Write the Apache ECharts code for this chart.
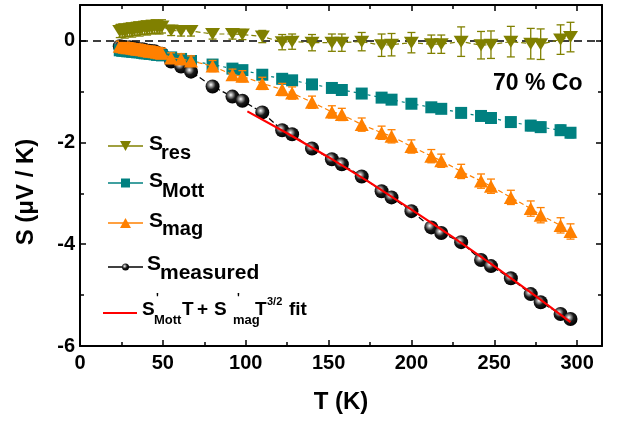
<!DOCTYPE html>
<html>
<head>
<meta charset="utf-8">
<script src="https://cdn.jsdelivr.net/npm/echarts@6/dist/echarts.min.js"></script>
<style>
  html, body { margin: 0; padding: 0; background: #fff; }
  #chart { width: 626px; height: 422px; }
</style>
</head>
<body>
<div id="chart"></div>
<script>
// Temperature points (K)
const T = [24, 25.5, 27, 28.5, 30, 31.5, 33, 34.5, 36, 37.5, 39, 40.5, 42, 43.5, 45, 46.5, 48, 49.5,
  55, 61, 67, 80, 92, 98, 110, 122, 128, 140, 152, 158, 170, 182, 188, 200, 212, 218, 230, 242, 248,
  260, 272, 278, 290, 296];

// Residual term
const S_res = [0.19, 0.20, 0.18, 0.21, 0.22, 0.20, 0.23, 0.24, 0.22, 0.25, 0.26, 0.24, 0.27, 0.26, 0.28, 0.27, 0.26, 0.28,
  0.20, 0.19, 0.19, 0.13, 0.13, 0.12, 0.08, -0.03, -0.02, -0.04, -0.04, -0.04, -0.02, -0.09, -0.08, -0.04,
  -0.07, -0.07, -0.02, -0.09, -0.08, -0.02, -0.06, -0.07, 0.02, 0.07];
const S_res_err = [0.13, 0.13, 0.13, 0.13, 0.13, 0.13, 0.13, 0.13, 0.13, 0.13, 0.13, 0.13, 0.13, 0.13, 0.13, 0.13, 0.13, 0.13,
  0.10, 0.10, 0.10, 0.10, 0.10, 0.10, 0.12, 0.15, 0.15, 0.16, 0.17, 0.17, 0.18, 0.22, 0.22, 0.20,
  0.18, 0.18, 0.29, 0.27, 0.27, 0.30, 0.30, 0.30, 0.29, 0.29];

// Mott (diffusion) term
const S_Mott = [-0.19, -0.20, -0.20, -0.21, -0.21, -0.22, -0.22, -0.23, -0.23, -0.24, -0.25, -0.25, -0.26, -0.26, -0.27, -0.28, -0.28, -0.29,
  -0.33, -0.36, -0.40, -0.47, -0.55, -0.58, -0.67, -0.75, -0.78, -0.86, -0.93, -0.97, -1.04, -1.12, -1.16, -1.24,
  -1.31, -1.34, -1.42, -1.48, -1.52, -1.60, -1.67, -1.70, -1.76, -1.81];
const S_Mott_err = [0.05, 0.05, 0.05, 0.05, 0.05, 0.05, 0.05, 0.05, 0.05, 0.05, 0.05, 0.05, 0.05, 0.05, 0.05, 0.05, 0.05, 0.05,
  0.06, 0.06, 0.06, 0.06, 0.06, 0.06, 0.07, 0.07, 0.07, 0.07, 0.07, 0.07, 0.08, 0.08, 0.08, 0.08,
  0.08, 0.08, 0.09, 0.09, 0.09, 0.09, 0.10, 0.10, 0.10, 0.10];

// Magnon drag term
const S_mag = [-0.11, -0.12, -0.13, -0.14, -0.14, -0.15, -0.16, -0.17, -0.17, -0.18, -0.19, -0.20, -0.21, -0.21, -0.22, -0.23, -0.24, -0.25,
  -0.34, -0.36, -0.40, -0.50, -0.67, -0.70, -0.84, -0.96, -1.03, -1.21, -1.40, -1.45, -1.65, -1.81, -1.88, -2.08,
  -2.27, -2.36, -2.57, -2.76, -2.86, -3.08, -3.30, -3.43, -3.63, -3.75];
const S_mag_err = [0.10, 0.10, 0.10, 0.10, 0.10, 0.10, 0.10, 0.10, 0.10, 0.10, 0.10, 0.10, 0.10, 0.10, 0.10, 0.10, 0.10, 0.10,
  0.10, 0.10, 0.10, 0.11, 0.11, 0.11, 0.12, 0.12, 0.12, 0.12, 0.12, 0.12, 0.13, 0.13, 0.13, 0.13,
  0.13, 0.13, 0.14, 0.14, 0.14, 0.14, 0.15, 0.15, 0.15, 0.15];

// Measured thermopower
const S_measured = [-0.11, -0.12, -0.15, -0.14, -0.13, -0.17, -0.15, -0.16, -0.18, -0.17, -0.18, -0.21, -0.20, -0.21, -0.21, -0.24, -0.26, -0.26,
  -0.41, -0.51, -0.61, -0.90, -1.10, -1.18, -1.41, -1.76, -1.84, -2.12, -2.33, -2.43, -2.67, -2.96, -3.08, -3.35,
  -3.67, -3.78, -3.96, -4.31, -4.43, -4.67, -4.98, -5.14, -5.37, -5.47];

// S'_Mott T + S'_mag T^(3/2) fit curve
const fitT = [101, 125, 150, 175, 200, 225, 250, 275, 296];
const fitS = [-1.39, -1.82, -2.29, -2.79, -3.32, -3.86, -4.43, -5.02, -5.53];

// Axis ticks
const xTicks = [0, 50, 100, 150, 200, 250, 300];
const yTicks = [-6, -4, -2, 0];

const FONT = '"Liberation Sans", Arial, sans-serif';
const C_RES = '#808000', C_MOTT = '#008080', C_MAG = '#FF8000', C_FIT = '#FF0000';

const pairs = (xs, ys) => xs.map((x, i) => [x, ys[i]]);
const errData = (ys, es) => T.map((x, i) => [x, ys[i] - es[i], ys[i] + es[i]]);

function errorBars(color) {
  return function (params, api) {
    const x = api.value(0);
    const lo = api.coord([x, api.value(1)]);
    const hi = api.coord([x, api.value(2)]);
    const w = 4;
    const st = { stroke: color, lineWidth: 1.3 };
    return {
      type: 'group',
      children: [
        { type: 'line', shape: { x1: lo[0], y1: lo[1], x2: hi[0], y2: hi[1] }, style: st },
        { type: 'line', shape: { x1: lo[0] - w, y1: lo[1], x2: lo[0] + w, y2: lo[1] }, style: st },
        { type: 'line', shape: { x1: hi[0] - w, y1: hi[1], x2: hi[0] + w, y2: hi[1] }, style: st }
      ]
    };
  };
}

const sphere = {
  type: 'radial', x: 0.38, y: 0.38, r: 0.62,
  colorStops: [
    { offset: 0, color: '#ffffff' },
    { offset: 0.22, color: '#a0a0a0' },
    { offset: 0.55, color: '#1a1a1a' },
    { offset: 1, color: '#000000' }
  ]
};

// Legend drawing helpers
function txt(x, y, text, size, extra) {
  return Object.assign({
    type: 'text', x: x, y: y, z: 100,
    style: {
      text: text, font: 'bold ' + size + 'px ' + FONT, fill: '#000',
      align: 'left', verticalAlign: 'middle', textAlign: 'left', textVerticalAlign: 'middle'
    }
  }, extra || {});
}
function keyLine(y, color, dash, x1, x2, w) {
  return { type: 'line', z: 100, shape: { x1: x1, y1: y, x2: x2, y2: y },
    style: { stroke: color, lineWidth: w || 1.3, lineDash: dash } };
}

const legendGraphics = [];
// S_res
legendGraphics.push(keyLine(146, C_RES, null, 108, 143));
legendGraphics.push({ type: 'polygon', z: 101, shape: { points: [[120, 141], [131, 141], [125.5, 151]] }, style: { fill: C_RES } });
legendGraphics.push(txt(149, 144.5, 'S', 21), txt(161, 153, 'res', 20));
// S_Mott
legendGraphics.push(keyLine(183, C_MOTT, null, 108, 143));
legendGraphics.push({ type: 'rect', z: 101, shape: { x: 121, y: 178.5, width: 9, height: 9 }, style: { fill: C_MOTT } });
legendGraphics.push(txt(149, 181, 'S', 21), txt(162, 191, 'Mott', 20));
// S_mag
legendGraphics.push(keyLine(223, C_MAG, null, 108, 143));
legendGraphics.push({ type: 'polygon', z: 101, shape: { points: [[125.5, 218], [131, 228], [120, 228]] }, style: { fill: C_MAG } });
legendGraphics.push(txt(149, 221.5, 'S', 21), txt(162, 229, 'mag', 20));
// S_measured
legendGraphics.push(keyLine(267, '#000', null, 108, 143));
legendGraphics.push({ type: 'circle', z: 101, shape: { cx: 125.5, cy: 267, r: 3.5 }, style: { fill: sphere } });
legendGraphics.push(txt(147, 264.5, 'S', 21), txt(160, 273, 'measured', 21));
// Fit
legendGraphics.push(keyLine(313, C_FIT, null, 103, 137, 2.2));
legendGraphics.push(
  txt(142, 310, 'S', 19), txt(156, 299, "'", 12), txt(154, 320.5, 'Mott', 13),
  txt(182, 310, 'T', 19), txt(197, 310, '+', 19),
  txt(214, 310, 'S', 19), txt(237, 299, "'", 12), txt(233, 320.5, 'mag', 13),
  txt(255, 310, 'T', 19), txt(267, 302, '3/2', 11), txt(289, 310, 'fit', 19)
);

const axisCommon = {
  axisLine: { onZero: false, lineStyle: { color: '#000', width: 2 } },
  axisTick: { inside: true, length: 6, lineStyle: { color: '#000', width: 1.5 } },
  minorTick: { show: true, splitNumber: 2, length: 4, lineStyle: { color: '#000', width: 1.5 } },
  splitLine: { show: false }
};

const option = {
  animation: false,
  backgroundColor: '#fff',
  grid: { left: 80, right: 24, top: 5, bottom: 76 },
  xAxis: [
    Object.assign({
      type: 'value', min: 0, max: 315, interval: 50,
      name: 'T (K)', nameLocation: 'middle', nameGap: 44,
      nameTextStyle: { fontFamily: FONT, fontWeight: 'bold', fontSize: 24, color: '#000' },
      axisLabel: {
        margin: 7, fontFamily: FONT, fontWeight: 'bold', fontSize: 20, color: '#000',
        showMaxLabel: false,
        formatter: v => (xTicks.indexOf(v) >= 0 ? String(v) : '')
      }
    }, axisCommon),
    Object.assign({
      type: 'value', position: 'top', min: 0, max: 315, interval: 50,
      axisLabel: { show: false }
    }, axisCommon)
  ],
  yAxis: [
    Object.assign({
      type: 'value', min: -6, max: 0.7, interval: 2,
      axisLabel: {
        margin: 5, fontFamily: FONT, fontWeight: 'bold', fontSize: 20, color: '#000',
        showMaxLabel: false,
        formatter: v => (yTicks.indexOf(v) >= 0 ? String(v) : '')
      }
    }, axisCommon),
    Object.assign({
      type: 'value', position: 'right', min: -6, max: 0.7, interval: 2,
      axisLabel: { show: false }
    }, axisCommon)
  ],
  graphic: [
    { type: 'text', x: 26, y: 192, rotation: Math.PI / 2, z: 100,
      style: { text: 'S (\u03bcV / K)', font: 'bold 24px ' + FONT, fill: '#000',
        align: 'center', verticalAlign: 'middle', textAlign: 'center', textVerticalAlign: 'middle' } },
    txt(493, 84, '70 % Co', 23)
  ].concat(legendGraphics),
  series: [
    {
      name: 'zero', type: 'line', data: [], silent: true,
      markLine: {
        silent: true, symbol: ['none', 'none'], label: { show: false },
        lineStyle: { color: '#000', type: [8, 5], width: 1.5 },
        data: [{ yAxis: 0 }]
      }
    },
    {
      name: 'S_measured', type: 'line', data: pairs(T, S_measured), z: 2,
      symbol: 'circle', symbolSize: 14,
      itemStyle: { color: sphere },
      lineStyle: { color: '#000', width: 1.2, type: [6, 3] }
    },
    { name: 'S_Mott err', type: 'custom', data: errData(S_Mott, S_Mott_err), renderItem: errorBars(C_MOTT), z: 3 },
    {
      name: 'S_Mott', type: 'line', data: pairs(T, S_Mott), z: 3,
      symbol: 'rect', symbolSize: 12,
      itemStyle: { color: C_MOTT },
      lineStyle: { color: C_MOTT, width: 1.2, type: [3, 4] }
    },
    { name: 'S_mag err', type: 'custom', data: errData(S_mag, S_mag_err), renderItem: errorBars(C_MAG), z: 4 },
    {
      name: 'S_mag', type: 'line', data: pairs(T, S_mag), z: 4,
      symbol: 'triangle', symbolSize: [14, 13],
      itemStyle: { color: C_MAG },
      lineStyle: { color: C_MAG, width: 1.2, type: [5, 3] }
    },
    { name: 'S_res err', type: 'custom', data: errData(S_res, S_res_err), renderItem: errorBars(C_RES), z: 5 },
    {
      name: 'S_res', type: 'line', data: pairs(T, S_res), z: 5,
      symbol: 'triangle', symbolRotate: 180, symbolSize: [15, 12],
      itemStyle: { color: C_RES },
      lineStyle: { color: C_RES, width: 1.2, type: [5, 3] }
    },
    {
      name: 'fit', type: 'line', data: pairs(fitT, fitS), z: 6,
      showSymbol: false, symbol: 'none',
      lineStyle: { color: C_FIT, width: 2.2 }
    }
  ]
};

const chart = echarts.init(document.getElementById('chart'), null, { renderer: 'canvas' });
chart.setOption(option);
</script>
</body>
</html>
